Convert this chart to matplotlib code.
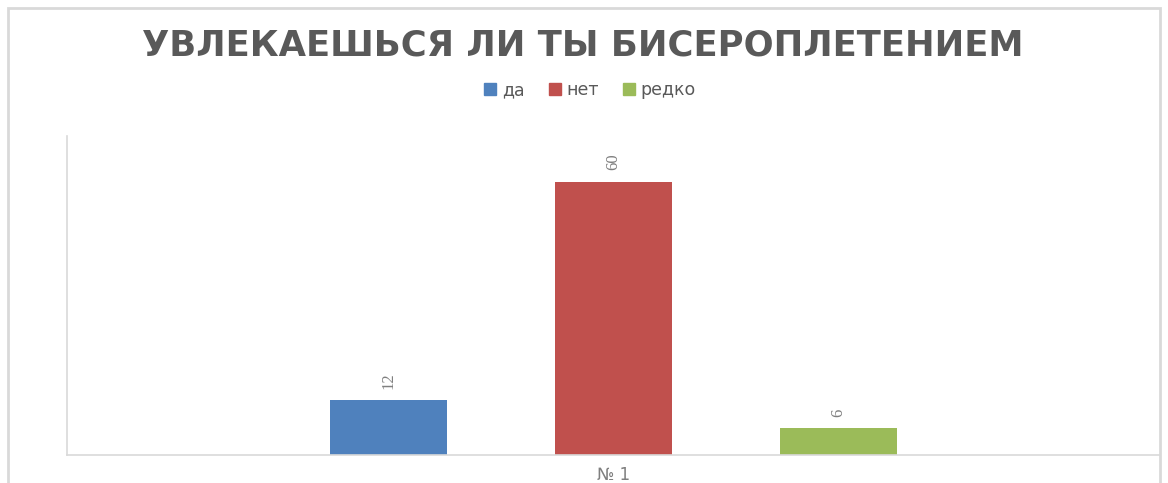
import matplotlib.pyplot as plt
from matplotlib.patches import Rectangle, Patch

# data
categories = ['да', 'нет', 'редко']
values = [12, 60, 6]
colors = ['#4F81BD', '#C0504D', '#9BBB59']
group_label = '№ 1'
title = 'УВЛЕКАЕШЬСЯ ЛИ ТЫ БИСЕРОПЛЕТЕНИЕМ'

fig = plt.figure(figsize=(11.68, 4.83), dpi=100)
fig.patches.append(Rectangle((8 / 1168, -0.05), 1152 / 1168, 1.05 - 8 / 483,
                             transform=fig.transFigure, fill=False,
                             edgecolor='#d9d9d9', linewidth=2))

ax = fig.add_axes([67 / 1168, 28 / 483, 1093 / 1168, 319 / 483])
pos = [-1, 0, 1]
bars = ax.bar(pos, values, width=0.52, color=colors)
for b, v in zip(bars, values):
    ax.annotate(str(v), (b.get_x() + b.get_width() / 2, v),
                xytext=(0, 8), textcoords='offset points',
                ha='center', va='bottom', rotation=90,
                fontsize=12, color='#7f7f7f', family='Liberation Serif')

ax.set_xlim(-2.43, 2.43)
ax.set_ylim(0, 70)
ax.set_yticks([])
ax.set_xticks([0])
ax.set_xticklabels([group_label], fontsize=12, color='#7f7f7f')
ax.tick_params(axis='x', length=0, pad=8)
for s in ['top', 'right']:
    ax.spines[s].set_visible(False)
for s in ['left', 'bottom']:
    ax.spines[s].set_color('#d9d9d9')
    ax.spines[s].set_linewidth(1.2)

fig.text(0.499, 0.905, title, ha='center', va='center', fontsize=25.5,
         fontweight='semibold', color='#595959', family='DejaVu Sans')

handles = [Patch(color=c, label=l) for c, l in zip(colors, categories)]
fig.legend(handles=handles, loc='center', bbox_to_anchor=(0.505, 0.813),
           ncol=3, frameon=False, fontsize=12.5, labelcolor='#595959',
           handlelength=0.7, handleheight=0.7, handletextpad=0.3,
           columnspacing=1.4)

plt.savefig('out.png', dpi=100)
